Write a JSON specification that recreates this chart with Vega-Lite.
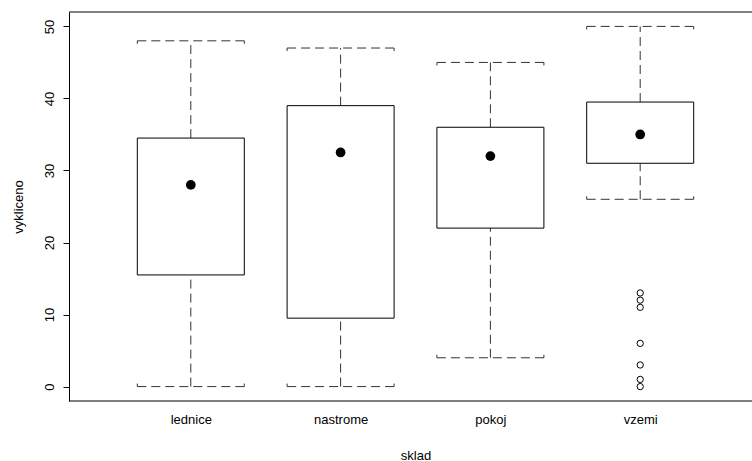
{
  "$schema": "https://vega.github.io/schema/vega-lite/v6.json",
  "autosize": "none",
  "width": 683,
  "height": 389,
  "padding": {"left": 69, "top": 12, "right": 0, "bottom": 60},
  "background": "white",
  "config": {
    "view": {"stroke": null},
    "font": "Liberation Sans",
    "axis": {"grid": false, "domainColor": "#000000", "tickColor": "#000000", "labelColor": "#000000", "titleColor": "#000000", "labelFontSize": 13, "titleFontSize": 13, "titleFontWeight": "normal", "labelFontWeight": "normal", "labelFont": "Liberation Sans", "titleFont": "Liberation Sans"}
  },
  "datasets": {
    "stats": [
      {"sklad": "lednice", "min": 0, "q1": 15.5, "median": 28, "q3": 34.5, "max": 48},
      {"sklad": "nastrome", "min": 0, "q1": 9.5, "median": 32.5, "q3": 39, "max": 47},
      {"sklad": "pokoj", "min": 4, "q1": 22, "median": 32, "q3": 36, "max": 45},
      {"sklad": "vzemi", "min": 26, "q1": 31, "median": 35, "q3": 39.5, "max": 50}
    ],
    "outliers": [
      {"sklad": "vzemi", "vykliceno": 13},
      {"sklad": "vzemi", "vykliceno": 12},
      {"sklad": "vzemi", "vykliceno": 11},
      {"sklad": "vzemi", "vykliceno": 6},
      {"sklad": "vzemi", "vykliceno": 3},
      {"sklad": "vzemi", "vykliceno": 1},
      {"sklad": "vzemi", "vykliceno": 0}
    ],
    "frame": [{"edge": "bottom", "v": -2}, {"edge": "top", "v": 52}]
  },
  "layer": [
    {
      "data": {"name": "stats"},
      "mark": {"type": "rule", "strokeDash": [9, 5], "color": "#333333", "strokeWidth": 1},
      "encoding": {
        "x": {
          "field": "sklad", "type": "nominal", "sort": null,
          "scale": {"type": "point", "range": [121.8, 571.2], "padding": 0},
          "axis": {"orient": "bottom", "ticks": false, "labelAngle": 0, "labelPadding": 12, "titlePadding": 23, "domain": false},
          "title": "sklad"
        },
        "y": {"field": "q3", "type": "quantitative", "scale": {"domain": [-2, 52], "nice": false, "zero": false},
          "axis": {"values": [0, 10, 20, 30, 40, 50], "tickSize": 6, "labelAngle": 270, "labelAlign": "center", "labelBaseline": "alphabetic", "labelPadding": 10, "titlePadding": 18, "domain": true},
          "title": "vykliceno"},
        "y2": {"field": "max"}
      }
    },
    {
      "data": {"name": "stats"},
      "mark": {"type": "rule", "strokeDash": [9, 5], "color": "#333333", "strokeWidth": 1},
      "encoding": {
        "x": {"field": "sklad", "type": "nominal", "sort": null},
        "y": {"field": "min", "type": "quantitative"},
        "y2": {"field": "q1"}
      }
    },
    {
      "data": {"name": "stats"},
      "mark": {"type": "rule", "strokeDash": [9, 5], "color": "#333333", "strokeWidth": 1, "xOffset": -53.5, "x2Offset": 53.5},
      "encoding": {
        "x": {"field": "sklad", "type": "nominal", "sort": null},
        "x2": {"field": "sklad"},
        "y": {"field": "max", "type": "quantitative"}
      }
    },
    {
      "data": {"name": "stats"},
      "mark": {"type": "rule", "strokeDash": [9, 5], "color": "#333333", "strokeWidth": 1, "xOffset": -53.5, "x2Offset": 53.5},
      "encoding": {
        "x": {"field": "sklad", "type": "nominal", "sort": null},
        "x2": {"field": "sklad"},
        "y": {"field": "min", "type": "quantitative"}
      }
    },
    {
      "data": {"name": "stats"},
      "mark": {"type": "rule", "color": "#333333", "strokeWidth": 1, "xOffset": -53.5, "y2Offset": 3},
      "encoding": {"x": {"field": "sklad", "type": "nominal", "sort": null}, "y": {"field": "max", "type": "quantitative"}, "y2": {"field": "max"}}
    },
    {
      "data": {"name": "stats"},
      "mark": {"type": "rule", "color": "#333333", "strokeWidth": 1, "xOffset": 53.5, "y2Offset": 3},
      "encoding": {"x": {"field": "sklad", "type": "nominal", "sort": null}, "y": {"field": "max", "type": "quantitative"}, "y2": {"field": "max"}}
    },
    {
      "data": {"name": "stats"},
      "mark": {"type": "rule", "color": "#333333", "strokeWidth": 1, "xOffset": -53.5, "y2Offset": -3},
      "encoding": {"x": {"field": "sklad", "type": "nominal", "sort": null}, "y": {"field": "min", "type": "quantitative"}, "y2": {"field": "min"}}
    },
    {
      "data": {"name": "stats"},
      "mark": {"type": "rule", "color": "#333333", "strokeWidth": 1, "xOffset": 53.5, "y2Offset": -3},
      "encoding": {"x": {"field": "sklad", "type": "nominal", "sort": null}, "y": {"field": "min", "type": "quantitative"}, "y2": {"field": "min"}}
    },
    {
      "data": {"name": "stats"},
      "mark": {"type": "bar", "size": 107, "fill": "white", "stroke": "#000000", "strokeWidth": 1},
      "encoding": {
        "x": {"field": "sklad", "type": "nominal", "sort": null},
        "y": {"field": "q1", "type": "quantitative"},
        "y2": {"field": "q3"}
      }
    },
    {
      "data": {"name": "stats"},
      "mark": {"type": "point", "shape": "circle", "filled": true, "size": 95, "color": "#000000", "opacity": 1},
      "encoding": {
        "x": {"field": "sklad", "type": "nominal", "sort": null},
        "y": {"field": "median", "type": "quantitative"}
      }
    },
    {
      "data": {"name": "outliers"},
      "mark": {"type": "point", "shape": "circle", "filled": false, "size": 40, "stroke": "#000000", "strokeWidth": 1, "opacity": 1},
      "encoding": {
        "x": {"field": "sklad", "type": "nominal", "sort": null},
        "y": {"field": "vykliceno", "type": "quantitative"}
      }
    },
    {
      "data": {"name": "frame"},
      "mark": {"type": "rule", "color": "#000000", "strokeWidth": 1},
      "encoding": {"y": {"field": "v", "type": "quantitative"}}
    }
  ]
}
